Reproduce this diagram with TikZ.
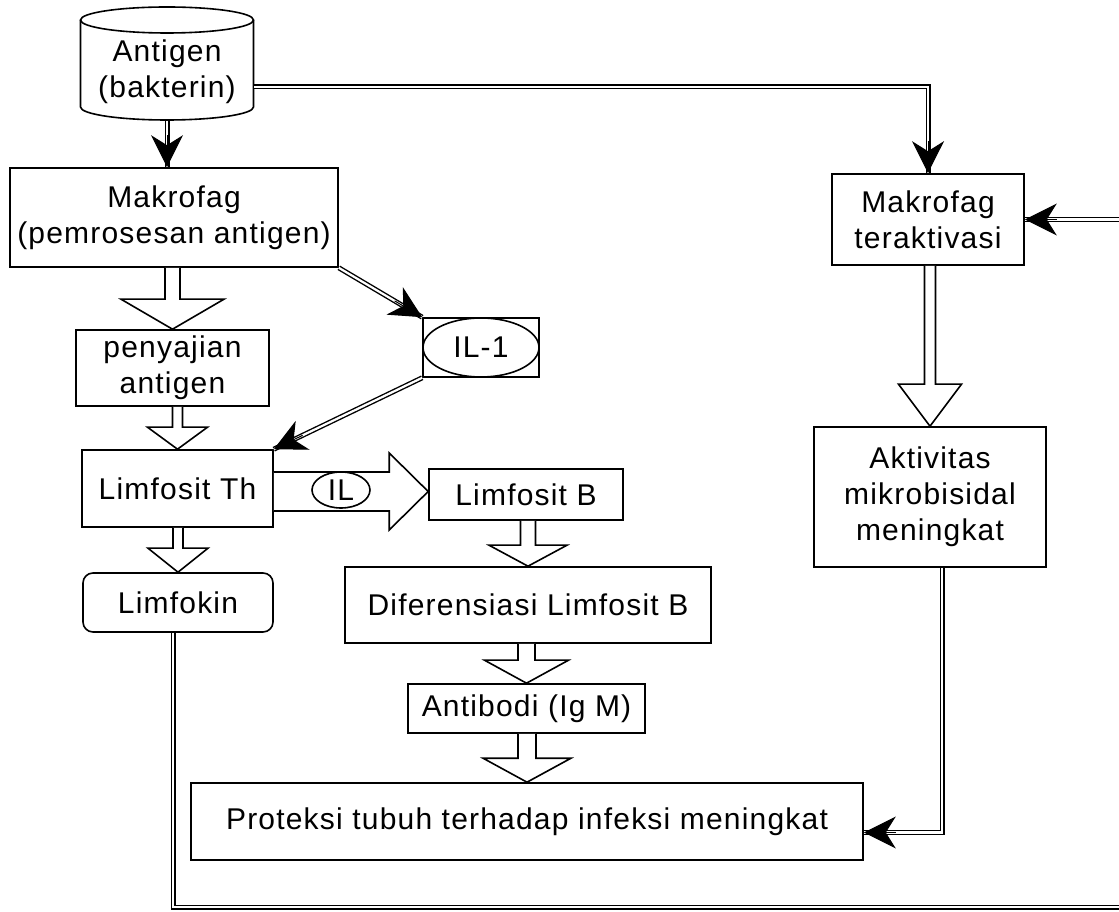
\documentclass[tikz,border=0pt]{standalone}
\usepackage{fontspec}
\setmainfont[LetterSpace=4]{Liberation Sans}
\usetikzlibrary{calc,arrows.meta,shapes.geometric}

% hollow block arrow pointing down: from, to, shaft half width, head half width, head length
\newcommand{\hollowdown}[5]{%
  \draw[hollow] ($(#1 -| #2)+(-#3,0)$) -- ($(#2)+(-#3,#5)$) -- ($(#2)+(-#4,#5)$) -- (#2)
    -- ($(#2)+(#4,#5)$) -- ($(#2)+(#3,#5)$) -- ($(#1 -| #2)+(#3,0)$);}

\begin{document}
\begin{tikzpicture}[
  x=1pt, y=1pt,
  txt/.style={font=\fontsize{30}{36}\selectfont},
  box/.style={
    rectangle,
    txt,
    draw,
    line width=1.6pt,
    align=center,
    inner sep=0pt
  },
  roundbox/.style={box, rounded corners=10pt},
  dline/.style={draw, line width=1.4pt, double distance=2.2pt},
  tip/.style={-{Stealth[length=32pt,width=32pt,inset=10pt]}, line width=1pt},
  hollow/.style={draw, line width=1.6pt, fill=white, line join=miter}]
  \useasboundingbox (0,0) rectangle (1119,911);

  % left column
  \node[box, draw=none, minimum width=173pt, minimum height=96pt] (antigen) at (167,839) {Antigen\\(bakterin)};
  \draw[line width=1.6pt] ($(antigen.center)+(0,52)$) ellipse [x radius=86.5pt, y radius=13pt];
  \draw[line width=1.6pt] ($(antigen.center)+(-86.5,52)$) -- ++(0,-87)
    arc [start angle=180, end angle=360, x radius=86.5pt, y radius=13pt] -- ++(0,87);
  \node[box, minimum width=328pt, minimum height=99pt] (mak1) at (174,693.5) {Makrofag\\(pemrosesan antigen)};
  \node[box, minimum width=193pt, minimum height=76pt] (penyajian) at (172.5,543) {penyajian\\antigen};
  \node[box, minimum width=191pt, minimum height=77pt] (limth) at (177.5,422.5) {Limfosit Th};
  \node[roundbox, minimum width=190pt, minimum height=59pt] (limfokin) at (178,308.5) {Limfokin};
  \node[box, minimum width=116pt, minimum height=59pt] (il1) at (481,563.5) {IL-1};
  \draw[line width=1.6pt] (il1.center) ellipse [x radius=58pt, y radius=29.5pt];

  % middle column
  \node[box, minimum width=194pt, minimum height=51pt] (limb) at (526,416.5) {Limfosit B};
  \node[box, minimum width=366pt, minimum height=76pt] (dif) at (528,306) {Diferensiasi Limfosit B};
  \node[box, minimum width=237pt, minimum height=49pt] (antibodi) at (526.5,202.5) {Antibodi (Ig M)};
  \node[box, minimum width=672pt, minimum height=77pt] (proteksi) at (527,89.5) {Proteksi tubuh terhadap infeksi meningkat};

  % right column
  \node[box, minimum width=192pt, minimum height=91pt] (mak2) at (928,691.5) {Makrofag\\teraktivasi};
  \node[box, minimum width=232pt, minimum height=140pt] (aktiv) at (930,414) {Aktivitas\\mikrobisidal\\meningkat};

  % block arrows
  \hollowdown{mak1.south}{penyajian.north}{7.5}{51.5}{30}
  \hollowdown{penyajian.south}{limth.north}{5}{30}{22}
  \hollowdown{limth.south}{limfokin.north}{5}{30}{24}
  \hollowdown{limb.south}{dif.north}{7.5}{39}{21}
  \hollowdown{dif.south}{antibodi.north}{8.5}{42}{23}
  \hollowdown{antibodi.south}{proteksi.north}{9}{44}{24}
  \hollowdown{mak2.south}{aktiv.north}{5.5}{31.5}{42}
  \coordinate (ilstart) at ([yshift=-3]limth.east);
  \coordinate (ilend) at (ilstart -| limb.west);
  \draw[hollow] ($(ilstart)+(0,19.5)$) -- ($(ilend)+(-39,19.5)$) -- ($(ilend)+(-39,38.5)$) -- (ilend)
    -- ($(ilend)+(-39,-38.5)$) -- ($(ilend)+(-39,-19.5)$) -- ($(ilstart)+(0,-19.5)$);
  \node[ellipse, txt, draw, line width=1.6pt, inner sep=0pt, minimum width=58pt, minimum height=36pt] (ilx) at (341,421) {IL};

  % double line connectors
  \coordinate (makin) at (antigen.south |- mak1.north);
  \draw[dline] (antigen.south) -- (makin);
  \draw[tip] ($(makin)+(0,32)$) -- (makin);
  \draw[dline] ([yshift=-15]antigen.east) -| (mak2.north);
  \draw[tip] ($(mak2.north)+(0,32)$) -- (mak2.north);
  \draw[dline] (mak1.south east) -- (il1.north west);
  \draw[tip] ($(il1.north west)!32pt!(mak1.south east)$) -- (il1.north west);
  \draw[dline] (il1.south west) -- (limth.north east);
  \draw[tip] ($(limth.north east)!32pt!(il1.south west)$) -- (limth.north east);
  \coordinate (loopr) at (1125,4);
  \draw[dline] ([xshift=-5]limfokin.south) |- (loopr) |- (mak2.east);
  \draw[tip] ($(mak2.east)+(32,0)$) -- (mak2.east);
  \coordinate (protin) at ([yshift=-11]proteksi.east);
  \draw[dline] ([xshift=12]aktiv.south) |- (protin);
  \draw[tip] ($(protin)+(32,0)$) -- (protin);
\end{tikzpicture}
\end{document}
